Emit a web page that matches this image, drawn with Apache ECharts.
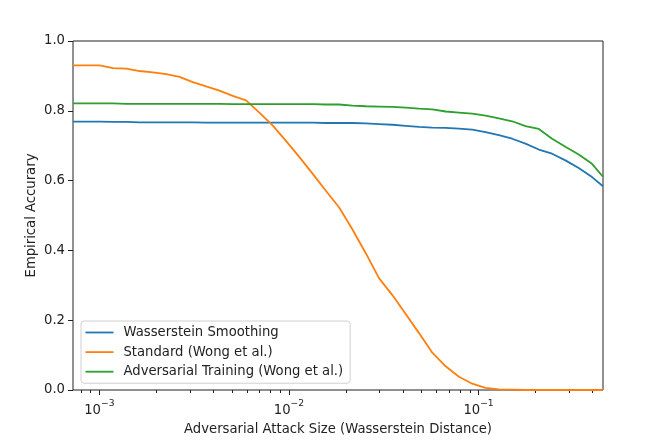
<!DOCTYPE html>
<html>
<head>
<meta charset="utf-8">
<script src="https://cdn.jsdelivr.net/npm/echarts@6/dist/echarts.min.js"></script>
<style>html,body{margin:0;padding:0;background:#fff}#c{width:646px;height:441px}</style>
</head>
<body>
<div id="c"></div>
<script>
// attack sizes (Wasserstein distance)
const xValues = [0.000726, 0.000854, 0.001004, 0.00118, 0.001387, 0.00163, 0.001916, 0.002252, 0.002647, 0.003111,
  0.003657, 0.004298, 0.005052, 0.005938, 0.00698, 0.0082, 0.00964, 0.01133, 0.01332, 0.01565,
  0.0184, 0.02163, 0.02542, 0.02988, 0.03512, 0.04128, 0.04853, 0.05704, 0.06705, 0.0788,
  0.0926, 0.1089, 0.128, 0.1504, 0.1768, 0.2078, 0.2443, 0.2871, 0.3375, 0.3967, 0.4533];
const wassersteinSmoothing = [0.769, 0.769, 0.769, 0.768, 0.768, 0.767, 0.767, 0.767, 0.767, 0.767,
  0.766, 0.766, 0.766, 0.766, 0.766, 0.766, 0.766, 0.766, 0.766, 0.765,
  0.765, 0.765, 0.764, 0.762, 0.760, 0.757, 0.754, 0.752, 0.751, 0.749,
  0.746, 0.739, 0.730, 0.720, 0.706, 0.689, 0.677, 0.658, 0.636, 0.610, 0.584];
const standardWong = [0.930, 0.930, 0.930, 0.922, 0.921, 0.914, 0.910, 0.905, 0.897, 0.882,
  0.870, 0.858, 0.843, 0.830, 0.795, 0.758, 0.714, 0.668, 0.620, 0.571,
  0.523, 0.460, 0.392, 0.320, 0.272, 0.218, 0.163, 0.107, 0.068, 0.038,
  0.018, 0.006, 0.002, 0.001, 0, 0, 0, 0, 0, 0, 0];
const adversarialWong = [0.821, 0.821, 0.821, 0.821, 0.820, 0.820, 0.820, 0.820, 0.820, 0.820,
  0.820, 0.820, 0.819, 0.819, 0.819, 0.819, 0.819, 0.819, 0.819, 0.818,
  0.818, 0.815, 0.813, 0.812, 0.811, 0.809, 0.806, 0.804, 0.798, 0.795,
  0.792, 0.786, 0.778, 0.770, 0.756, 0.748, 0.720, 0.697, 0.675, 0.648, 0.611];
const seriesNames = ['Wasserstein Smoothing', 'Standard (Wong et al.)', 'Adversarial Training (Wong et al.)'];
const majorTicks = [0.001, 0.01, 0.1];
const majorLabels = {'0.001': '−3', '0.01': '−2', '0.1': '−1'};
const minorTicks = [0.0008, 0.0009, 0.002, 0.003, 0.004, 0.005, 0.006, 0.007, 0.008, 0.009,
  0.02, 0.03, 0.04, 0.05, 0.06, 0.07, 0.08, 0.09, 0.2, 0.3, 0.4];

const FONT = 'DejaVu Sans';
const FS = 13.2;
const colors = ['#1f77b4', '#ff7f0e', '#2ca02c'];
const xMin = xValues[0], xMax = xValues[xValues.length - 1];
const allSeries = [wassersteinSmoothing, standardWong, adversarialWong];

const chart = echarts.init(document.getElementById('c'), null, {renderer: 'canvas'});
chart.setOption({
  animation: false,
  backgroundColor: '#fff',
  color: colors,
  grid: {left: 73, right: 43, top: 41, bottom: 50, show: true, borderColor: '#222', borderWidth: 1, backgroundColor: 'transparent'},
  legend: {
    orient: 'vertical', left: 81, top: 321,
    data: seriesNames,
    icon: 'path://M0,0L28,0L28,1.8L0,1.8Z',
    itemWidth: 28, itemHeight: 14, itemGap: 5.6,
    padding: [4.5, 7, 4.5, 4.5],
    backgroundColor: 'rgba(255,255,255,0.8)',
    borderColor: '#d0d0d0', borderWidth: 1, borderRadius: 3,
    textStyle: {fontFamily: FONT, fontSize: FS, color: '#222', lineHeight: 14, padding: [0, 0, 0, 5]}
  },
  xAxis: [{
    type: 'log', logBase: 10, min: xMin, max: xMax,
    name: 'Adversarial Attack Size (Wasserstein Distance)',
    nameLocation: 'middle', nameGap: 33,
    nameTextStyle: {fontFamily: FONT, fontSize: FS, color: '#222'},
    axisLine: {show: false},
    splitLine: {show: false},
    minorTick: {show: false},
    axisTick: {show: true, length: 5, lineStyle: {color: '#222', width: 1}, customValues: majorTicks},
    axisLabel: {
      customValues: majorTicks, margin: 9,
      formatter: function (v) {
        const key = String(+v.toPrecision(3));
        return '{b|10}{s|' + (majorLabels[key] || '') + '}';
      },
      rich: {
        b: {fontFamily: FONT, fontSize: FS, color: '#222', lineHeight: 18, verticalAlign: 'bottom'},
        s: {fontFamily: FONT, fontSize: 9.2, color: '#222', lineHeight: 18, verticalAlign: 'top'}
      }
    }
  }, {
    type: 'log', logBase: 10, min: xMin, max: xMax, position: 'bottom',
    axisLine: {show: false}, splitLine: {show: false}, minorTick: {show: false},
    axisTick: {show: true, length: 3, lineStyle: {color: '#222', width: 1}, customValues: minorTicks},
    axisLabel: {show: false}
  }],
  yAxis: {
    type: 'value', min: 0, max: 1, interval: 0.2,
    name: 'Empirical Accurary', nameLocation: 'middle', nameGap: 35, nameMoveOverlap: false,
    nameTextStyle: {fontFamily: FONT, fontSize: FS, color: '#222'},
    axisLine: {show: false},
    splitLine: {show: false},
    axisTick: {show: true, length: 5, lineStyle: {color: '#222', width: 1}},
    axisLabel: {
      margin: 8, fontFamily: FONT, fontSize: FS, color: '#222',
      formatter: v => v.toFixed(1)
    }
  },
  series: allSeries.map((arr, i) => ({
    name: seriesNames[i],
    type: 'line',
    xAxisIndex: 0,
    symbol: 'none',
    data: xValues.map((x, j) => [x, arr[j]]),
    lineStyle: {width: 1.8, color: colors[i]},
    itemStyle: {color: colors[i]},
    z: 3 + i
  }))
});
</script>
</body>
</html>
